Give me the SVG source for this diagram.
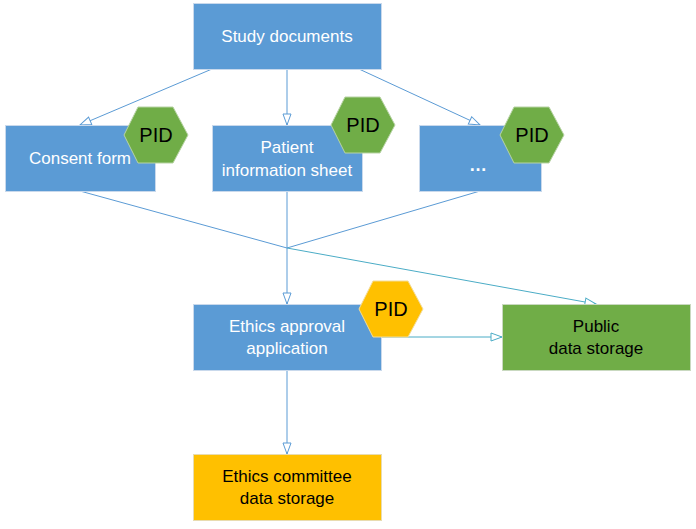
<svg xmlns="http://www.w3.org/2000/svg" width="696" height="529" viewBox="0 0 696 529">
<style>
.box{fill:#5b9bd5;stroke:#c9d9ec;stroke-width:1}
.gbox{fill:#70ad47;stroke:#c9d9c0;stroke-width:1}
.obox{fill:#ffc000;stroke:#e8dcb0;stroke-width:1}
.hexg{fill:#70ad47;stroke:#b7d3a4;stroke-width:1}
.hexo{fill:#ffc000;stroke:#f3dc9a;stroke-width:1}
.wt{font-family:"Liberation Sans",Arial,sans-serif;font-size:17px;fill:#ffffff;text-anchor:middle}
.bt{font-family:"Liberation Sans",Arial,sans-serif;font-size:17px;fill:#000000;text-anchor:middle}
.pid{font-family:"Liberation Sans",Arial,sans-serif;font-size:20px;fill:#000000;text-anchor:middle}
.ln{fill:none;stroke:#5b9bd5;stroke-width:1}
.lt{fill:none;stroke:#4bacc6;stroke-width:1}
</style>
<defs>
<marker id="ab" markerUnits="userSpaceOnUse" markerWidth="14" markerHeight="12" refX="12" refY="5" orient="auto">
<path d="M1,1 L12,5 L1,9 Z" fill="#ffffff" stroke="#5b9bd5" stroke-width="1"/>
</marker>
<marker id="at" markerUnits="userSpaceOnUse" markerWidth="14" markerHeight="12" refX="12" refY="5" orient="auto">
<path d="M1,1 L12,5 L1,9 Z" fill="#ffffff" stroke="#4bacc6" stroke-width="1"/>
</marker>
</defs>
<g id="connectors">
<line class="ln" x1="212" y1="69" x2="80" y2="125" marker-end="url(#ab)"/>
<line class="ln" x1="287" y1="69" x2="287" y2="125" marker-end="url(#ab)"/>
<line class="ln" x1="359" y1="69" x2="480" y2="125" marker-end="url(#ab)"/>
<line class="ln" x1="80" y1="191" x2="287" y2="248"/>
<line class="ln" x1="480" y1="191" x2="287" y2="248"/>
<line class="ln" x1="287" y1="191" x2="287" y2="304" marker-end="url(#ab)"/>
<line class="lt" x1="287" y1="248" x2="596" y2="304" marker-end="url(#at)"/>
<line class="lt" x1="382" y1="337" x2="502" y2="337" marker-end="url(#at)"/>
<line class="ln" x1="287" y1="370" x2="287" y2="454" marker-end="url(#ab)"/>
</g>
<g id="study-documents">
<rect class="box" x="193.5" y="3.5" width="188" height="66"/>
<text class="wt" x="287" y="42">Study documents</text>
</g>
<g id="consent-form">
<rect class="box" x="5.5" y="125.5" width="150" height="66"/>
<text class="wt" x="80" y="164">Consent form</text>
</g>
<g id="patient-information-sheet">
<rect class="box" x="212.5" y="125.5" width="150" height="66"/>
<text class="wt" x="287" y="153">Patient</text>
<text class="wt" x="287" y="176">information sheet</text>
</g>
<g id="other-documents">
<rect class="box" x="419.5" y="125.5" width="122" height="66"/>
<text class="wt" x="478" y="171" style="font-size:18px;font-weight:bold">…</text>
</g>
<g id="pid-consent">
<polygon class="hexg" points="124,135 138,107 173,107 188,135 173,163 138,163"/>
<text class="pid" x="156" y="142">PID</text>
</g>
<g id="pid-patient">
<polygon class="hexg" points="331,125 345,97 380,97 395,125 380,153 345,153"/>
<text class="pid" x="363" y="132">PID</text>
</g>
<g id="pid-other">
<polygon class="hexg" points="500,135 514,107 549,107 564,135 549,163 514,163"/>
<text class="pid" x="532" y="142">PID</text>
</g>
<g id="ethics-approval-application">
<rect class="box" x="193.5" y="304.5" width="188" height="66"/>
<text class="wt" x="287" y="332">Ethics approval</text>
<text class="wt" x="287" y="354">application</text>
</g>
<g id="pid-ethics">
<polygon class="hexo" points="359,309 373,281 408,281 423,309 408,337 373,337"/>
<text class="pid" x="391" y="316">PID</text>
</g>
<g id="public-data-storage">
<rect class="gbox" x="502.5" y="304.5" width="188" height="66"/>
<text class="bt" x="596" y="332">Public</text>
<text class="bt" x="596" y="354">data storage</text>
</g>
<g id="ethics-committee-data-storage">
<rect class="obox" x="193.5" y="454.5" width="188" height="66"/>
<text class="bt" x="287" y="482">Ethics committee</text>
<text class="bt" x="287" y="504">data storage</text>
</g>
</svg>
